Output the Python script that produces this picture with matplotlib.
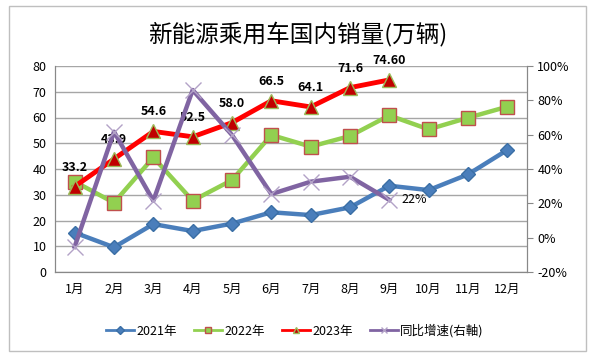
import matplotlib.pyplot as plt
from matplotlib.patches import Rectangle
from matplotlib.lines import Line2D

plt.rcParams['font.family'] = ['Noto Sans CJK SC', 'DejaVu Sans']

months = ["1月", "2月", "3月", "4月", "5月", "6月", "7月", "8月", "9月", "10月", "11月", "12月"]
sales_2021 = [15.3, 9.6, 18.6, 15.9, 18.8, 23.2, 22.1, 25.1, 33.5, 31.8, 37.9, 47.4]
sales_2022 = [35.1, 26.9, 44.5, 27.7, 35.7, 53.2, 48.7, 52.8, 60.8, 55.4, 59.9, 64.2]
sales_2023 = [33.2, 43.9, 54.6, 52.5, 58.0, 66.5, 64.1, 71.6, 74.6]
labels_2023 = ["33.2", "43.9", "54.6", "52.5", "58.0", "66.5", "64.1", "71.6", "74.60"]
growth = [-5.3, 61.7, 21.5, 86.0, 59.8, 25.4, 32.6, 35.5, 22.0]  # %, right axis

fig = plt.figure(figsize=(5.9, 3.57), dpi=100)
fig.patches.append(Rectangle((9 / 590, 6 / 357), 577 / 590, 345 / 357,
                             transform=fig.transFigure, fill=False,
                             edgecolor="#BFBFBF", linewidth=1))

ax = fig.add_axes([55 / 590, 1 - 272 / 357, 472 / 590, 206 / 357])
ax2 = ax.twinx()

x = list(range(len(months)))
x23 = x[:len(sales_2023)]

styles = [
    dict(color="#4A7EBB", marker="D", mfc="#4A7EBB", mec="#3A6EA5", mew=1),
    dict(color="#92D050", marker="s", mfc="#92D050", mec="#C0504D", mew=1),
    dict(color="#FF0000", marker="^", mfc="#C00000", mec="#9BBB59", mew=1),
    dict(color="#8064A2", marker="x", mec="#B3A2C7", mew=1),
]
names = ["2021年", "2022年", "2023年", "同比增速(右軸)"]

ax.plot(x, sales_2021, lw=3.2, ms=7, zorder=3, **styles[0])
ax.plot(x, sales_2022, lw=3.2, ms=10, zorder=3, **styles[1])
ax.plot(x23, sales_2023, lw=3.5, ms=10, zorder=4, **styles[2])
ax2.plot(x23, growth, lw=3.2, ms=11, zorder=3, **styles[3])

for xi, yi, t in zip(x23, sales_2023, labels_2023):
    ax.annotate(t, (xi, yi), xytext=(0, 14), textcoords="offset points",
                ha="center", va="center", fontsize=9, fontweight="bold")
ax2.annotate("22%", (x23[-1], growth[-1]), xytext=(9, 0), textcoords="offset points",
             ha="left", va="center", fontsize=9)

ax.set_xlim(-0.5, 11.5)
ax.set_ylim(0, 80)
ax.set_yticks(range(0, 81, 10))
ax.set_xticks(x)
ax.set_xticklabels(months, fontsize=9)
ax.tick_params(axis="both", length=0, labelsize=9, pad=6)
ax.tick_params(axis="x", pad=8)
ax.grid(axis="y", color="#A6A6A6", lw=1)
ax.set_axisbelow(True)

ax2.set_ylim(-20, 100)
ax2.set_yticks(range(-20, 101, 20))
ax2.set_yticklabels([f"{v}%" for v in range(-20, 101, 20)])
ax2.tick_params(axis="y", length=4, labelsize=9, color="#888888")

for a in (ax, ax2):
    for s in a.spines.values():
        s.set_color("#888888")
ax.spines["top"].set_visible(False)
ax2.spines["top"].set_visible(False)

fig.text(0.505, 1 - 34 / 357, "新能源乘用车国内销量(万辆)", ha="center", va="center",
         fontsize=17, fontweight="medium")

handles = [Line2D([], [], lw=2, ms=5, **st) for st in styles]
handles[0].set_markersize(4)
fig.legend(handles, names, loc="center",
           bbox_to_anchor=(0.5, 1 - 331 / 357), ncol=4, frameon=False,
           fontsize=9, handlelength=2.2, columnspacing=1.4, handletextpad=0.2)

fig.savefig("out.png", dpi=100)
